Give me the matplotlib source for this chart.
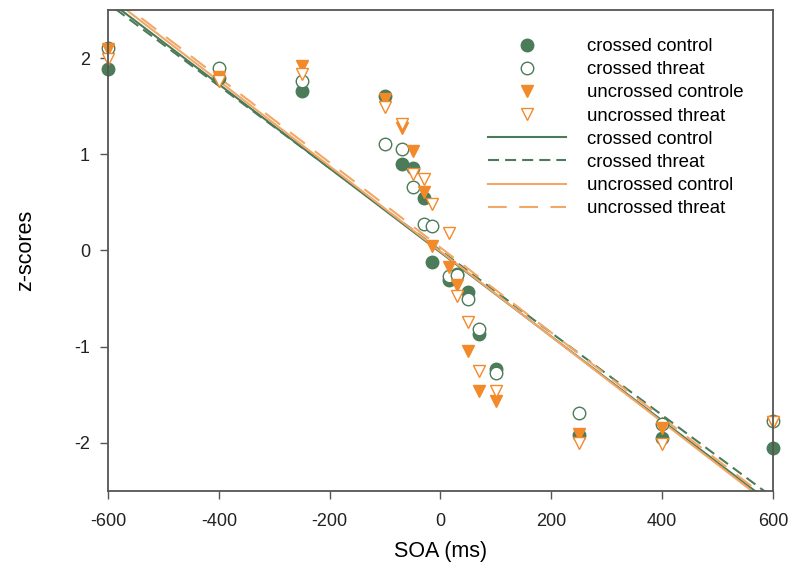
import numpy as np
import matplotlib.pyplot as plt

plt.rcParams['font.family'] = ['Liberation Sans', 'DejaVu Sans']
plt.rcParams['axes.unicode_minus'] = False

# SOA values (ms)
soa = [-600, -400, -250, -100, -70, -50, -30, -15, 15, 30, 50, 70, 100, 250, 400, 600]

# z-scores
crossed_control = [1.89, 1.79, 1.66, 1.61, 0.90, 0.86, 0.55, -0.12, -0.31, -0.24, -0.43, -0.87, -1.23, -1.92, -1.95, -2.05]
crossed_threat = [2.10, 1.90, 1.76, 1.11, 1.05, 0.66, 0.28, 0.25, -0.27, -0.25, -0.50, -0.82, -1.27, -1.69, -1.80, -1.77]
uncrossed_control = [2.09, 1.80, 1.92, 1.57, 1.27, 1.03, 0.61, 0.05, -0.17, -0.36, -1.04, -1.46, -1.56, -1.91, -1.85, -1.78]
uncrossed_threat = [1.99, 1.76, 1.83, 1.49, 1.32, 0.79, 0.74, 0.48, 0.18, -0.47, -0.74, -1.25, -1.46, -2.00, -2.01, -1.78]

# regression lines: slope, intercept
fit_crossed_control = (-0.00437, -0.02)
fit_crossed_threat = (-0.00428, 0.0)
fit_uncrossed_control = (-0.00443, -0.01)
fit_uncrossed_threat = (-0.00442, 0.03)

green = '#4b7b59'
orange = '#f28a2a'
orange_line = '#f3a766'

fig = plt.figure(figsize=(7.89, 5.68), dpi=100)
ax = fig.add_axes([0.1369, 0.1356, 0.8428, 0.8468])

xx = np.array([-700, 700])
l1, = ax.plot(xx, fit_crossed_control[0] * xx + fit_crossed_control[1], color=green, lw=1.5)
l2, = ax.plot(xx, fit_crossed_threat[0] * xx + fit_crossed_threat[1], color=green, lw=1.5, dashes=(5.3, 2.9))
l3, = ax.plot(xx, fit_uncrossed_control[0] * xx + fit_uncrossed_control[1], color=orange_line, lw=1.5)
l4, = ax.plot(xx, fit_uncrossed_threat[0] * xx + fit_uncrossed_threat[1], color=orange_line, lw=1.5, dashes=(9, 6))

ms = 9
p1, = ax.plot(soa, crossed_control, 'o', color=green, ms=ms, ls='none', clip_on=False)
p2, = ax.plot(soa, crossed_threat, 'o', mfc='white', mec=green, mew=1.0, ms=ms, ls='none', clip_on=False)
p3, = ax.plot(soa, uncrossed_control, 'v', color=orange, ms=ms, ls='none', clip_on=False)
p4, = ax.plot(soa, uncrossed_threat, 'v', mfc='white', mec=orange, mew=1.0, ms=ms, ls='none', clip_on=False)

handles = [p1, p2, p3, p4, l1, l2, l3, l4]
labels = ['crossed control', 'crossed threat', 'uncrossed controle', 'uncrossed threat',
          'crossed control', 'crossed threat', 'uncrossed control', 'uncrossed threat']
fig.legend(handles, labels, loc='upper left', bbox_to_anchor=(0.618, 0.933), frameon=False,
           fontsize=13.4, handlelength=4.2, handletextpad=1.13, labelspacing=0.33,
           borderpad=0, borderaxespad=0)

ax.set_xlim(-600, 600)
ax.set_ylim(-2.5, 2.5)
ax.set_xticks([-600, -400, -200, 0, 200, 400, 600])
ax.set_yticks([-2, -1, 0, 1, 2])
ax.tick_params(direction='out', length=6, width=1, labelsize=13, colors='#555555', labelcolor='#222222')
ax.tick_params(axis='x', pad=10)
ax.tick_params(axis='y', pad=7)
for s in ax.spines.values():
    s.set_color('#555555')
    s.set_linewidth(1.3)
ax.set_xlabel('SOA (ms)', fontsize=15.5, labelpad=8)
ax.set_ylabel('z-scores', fontsize=15.5, labelpad=27)

fig.savefig('out.png', dpi=100)
